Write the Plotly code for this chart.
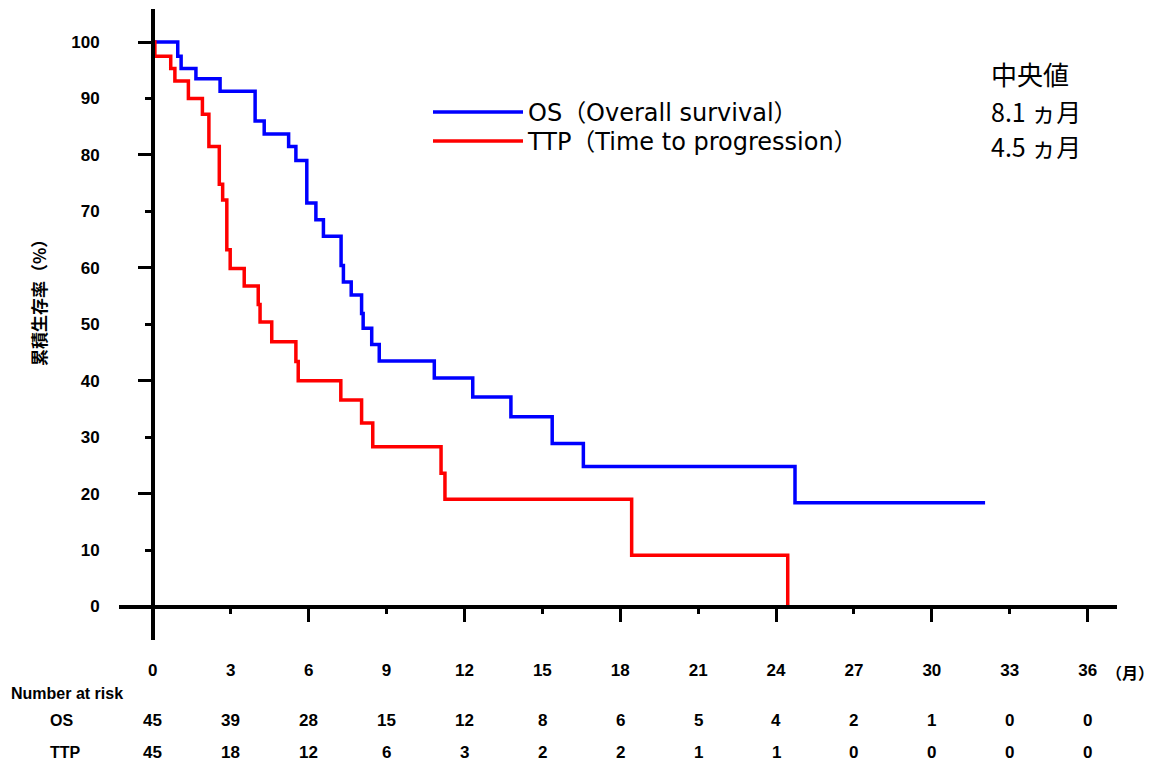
import plotly.graph_objects as go

# ---------------- data ----------------
os_time = [0, 0.96, 1.09, 1.66, 2.59, 3.94, 4.29, 5.23, 5.51, 5.93, 6.28, 6.57,
           7.25, 7.34, 7.64, 8.04, 8.10, 8.43, 8.72, 10.84, 12.32, 13.79, 15.38,
           16.58, 24.73, 32.05]
os_surv = [100, 97.5, 95.3, 93.5, 91.3, 86.0, 83.7, 81.5, 79.0, 71.5, 68.5, 65.6,
           60.4, 57.5, 55.2, 51.9, 49.3, 46.4, 43.5, 40.5, 37.1, 33.6, 28.9,
           24.8, 18.4, 18.4]

ttp_time = [0, 0.08, 0.69, 0.85, 1.37, 1.91, 2.16, 2.56, 2.69, 2.85, 2.98, 3.52,
            4.06, 4.13, 4.58, 5.51, 5.60, 7.24, 8.04, 8.47, 11.10, 11.25, 18.44,
            24.45]
ttp_surv = [100, 97.5, 95.3, 93.1, 90.0, 87.2, 81.5, 74.8, 72.0, 63.2, 59.9, 56.8,
            53.5, 50.4, 46.9, 43.4, 40.0, 36.6, 32.5, 28.3, 23.6, 19.0, 9.1,
            0]

month_ticks = [0, 3, 6, 9, 12, 15, 18, 21, 24, 27, 30, 33, 36]
month_major = [0, 6, 12, 18, 24, 30, 36]
pct_ticks = [0, 10, 20, 30, 40, 50, 60, 70, 80, 90, 100]
pct_major = [0, 20, 40, 60, 80, 100]

risk_os = [45, 39, 28, 15, 12, 8, 6, 5, 4, 2, 1, 0, 0]
risk_ttp = [45, 18, 12, 6, 3, 2, 2, 1, 1, 0, 0, 0, 0]

legend_names = ["OS（Overall survival）", "TTP（Time to progression）"]
median_title = "中央値"
median_texts = ["8.1 ヵ月", "4.5 ヵ月"]
y_title = "累積生存率（%）"

# ---------------- layout constants ----------------
W, H = 1154, 766
ML, MR, MT, MB = 119, 37, 9, 126
X_RANGE = [-1.302, 37.13]
Y_RANGE = [-5.93, 105.85]
x_pos = (0 - Y_RANGE[0]) / (Y_RANGE[1] - Y_RANGE[0])
y_pos = (0 - X_RANGE[0]) / (X_RANGE[1] - X_RANGE[0])

BLUE = "#0000FF"
RED = "#FF0000"
NUM_FONT = "Liberation Sans, Arial, sans-serif"
CJK_FONT = "Noto Sans CJK JP, sans-serif"
LEG_FONT = "DejaVu Sans, Noto Sans CJK JP, sans-serif"


def py(pixel_y):
    return (H - MB - pixel_y) / (H - MT - MB)


def px(pixel_x):
    return (pixel_x - ML) / (W - ML - MR)


fig = go.Figure()
fig.add_trace(go.Scatter(x=os_time, y=os_surv, mode="lines", name=legend_names[0],
                         legend="legend",
                         line=dict(color=BLUE, width=3.5, shape="hv")))
fig.add_trace(go.Scatter(x=ttp_time, y=ttp_surv, mode="lines", name=legend_names[1],
                         legend="legend2",
                         line=dict(color=RED, width=3.5, shape="hv")))
# helper (empty) traces so the overlay axes carrying the long ticks are drawn
fig.add_trace(go.Scatter(x=[None], y=[None], xaxis="x2", yaxis="y",
                         showlegend=False, hoverinfo="skip"))
fig.add_trace(go.Scatter(x=[None], y=[None], xaxis="x", yaxis="y2",
                         showlegend=False, hoverinfo="skip"))

axis_common = dict(showgrid=False, zeroline=False, ticks="outside",
                   tickcolor="black", tickwidth=2.5)

legend_common = dict(xanchor="left", yanchor="top", bgcolor="rgba(0,0,0,0)",
                     itemwidth=90, font=dict(family=LEG_FONT, size=24, color="black"))

fig.update_layout(
    width=W, height=H,
    margin=dict(l=ML, r=MR, t=MT, b=MB),
    paper_bgcolor="white", plot_bgcolor="white",
    xaxis=dict(range=X_RANGE, anchor="free", position=x_pos,
               showline=True, linecolor="black", linewidth=3.5,
               tickmode="array", tickvals=month_ticks,
               ticktext=[str(v) for v in month_ticks],
               ticklen=6, ticklabelstandoff=41,
               tickfont=dict(family=NUM_FONT, size=17, color="black", weight="bold"),
               **axis_common),
    xaxis2=dict(range=X_RANGE, overlaying="x", anchor="free", position=x_pos,
                showline=False, tickmode="array", tickvals=month_major,
                ticklen=14, showticklabels=False, **axis_common),
    yaxis=dict(range=Y_RANGE, anchor="free", position=y_pos,
               showline=True, linecolor="black", linewidth=3.5,
               tickmode="array", tickvals=pct_ticks,
               ticktext=[str(v) for v in pct_ticks],
               ticklen=6, ticklabelstandoff=42,
               tickfont=dict(family=NUM_FONT, size=17, color="black", weight="bold"),
               **axis_common),
    yaxis2=dict(range=Y_RANGE, overlaying="y", anchor="free", position=y_pos,
                showline=False, tickmode="array", tickvals=pct_major,
                ticklen=15, showticklabels=False, **axis_common),
    showlegend=True,
    legend=dict(x=px(428), y=py(90), **legend_common),
    legend2=dict(x=px(428), y=py(119), **legend_common),
)

annotations = []
# y axis title
annotations.append(dict(xref="paper", yref="paper", x=px(38), y=py(299),
                        xanchor="center", yanchor="middle", textangle=-90,
                        text=y_title, showarrow=False,
                        font=dict(family=CJK_FONT, size=17, color="black", weight="bold")))
# median block
annotations.append(dict(xref="paper", yref="paper", x=px(989), y=py(73),
                        xanchor="left", yanchor="middle",
                        text=median_title, showarrow=False,
                        font=dict(family=CJK_FONT, size=26, color="black")))
for i, t in enumerate(median_texts):
    annotations.append(dict(xref="paper", yref="paper", x=px(989), y=py(111 + 35 * i),
                            xanchor="left", yanchor="middle", text=t, showarrow=False,
                            font=dict(family=CJK_FONT, size=25, color="black")))

# unit label
annotations.append(dict(xref="paper", yref="paper", x=px(1104), y=py(672),
                        xanchor="left", yanchor="middle",
                        text="（月）", showarrow=False,
                        font=dict(family=CJK_FONT, size=16, color="black", weight="bold")))

# number at risk table
annotations.append(dict(xref="paper", yref="paper", x=px(9), y=py(693),
                        xanchor="left", yanchor="middle", text="Number at risk",
                        showarrow=False,
                        font=dict(family=NUM_FONT, size=16, color="black", weight="bold")))
for label, cx, cy in (("OS", 61, 721), ("TTP", 65, 752)):
    annotations.append(dict(xref="paper", yref="paper", x=px(cx), y=py(cy),
                            xanchor="center", yanchor="middle", text=label,
                            showarrow=False,
                            font=dict(family=NUM_FONT, size=16, color="black", weight="bold")))
for row, cy in ((risk_os, 721), (risk_ttp, 752)):
    for m, n in zip(month_ticks, row):
        annotations.append(dict(xref="x", yref="paper", x=m, y=py(cy),
                                xanchor="center", yanchor="middle", text=str(n),
                                showarrow=False,
                                font=dict(family=NUM_FONT, size=17, color="black",
                                          weight="bold")))

fig.update_layout(annotations=annotations)

fig.write_html("out.html")
